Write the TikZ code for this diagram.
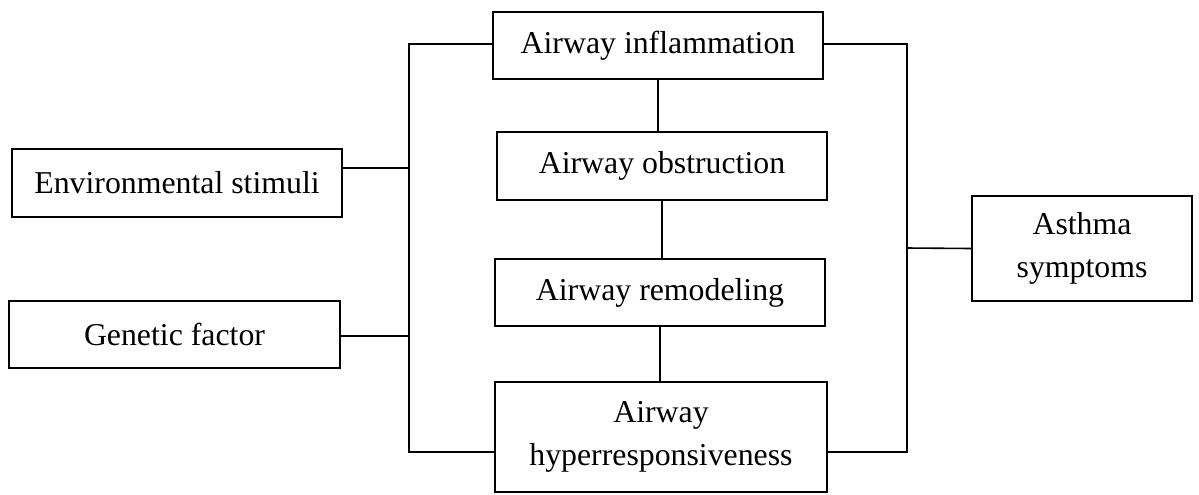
\documentclass[tikz,border=0pt]{standalone}
\usepackage{fontspec}
\setmainfont{Liberation Serif}
\usetikzlibrary{shapes}
\tikzstyle{cause} = [rectangle, draw=black, line width=1pt, minimum width=165pt, minimum height=33.5pt, inner sep=0pt, align=center, font=\fontsize{15.9}{21.5}\selectfont]
\tikzstyle{link} = [line width=0.8pt]

\begin{document}
\begin{tikzpicture}[x=0.5pt, y=-0.5pt]

\useasboundingbox (0,0) rectangle (1199,494);

\node (inflam) [cause] at (658,45.5) {Airway inflammation};
\node (obstruct) [cause, minimum height=34pt] at (662,166) {Airway obstruction};
\node (remodel) [cause] at (660,292.5) {Airway remodeling};
\node (hyper) [cause, minimum width=166pt, minimum height=55pt] at (661,437) {Airway\\hyperresponsiveness};
\node (environ) [cause, minimum height=34pt] at (177,183) {Environmental stimuli};
\node (genetic) [cause, minimum width=165.5pt] at (174.5,334.5) {Genetic factor};
\node (asthma) [cause, minimum width=110pt, minimum height=52.5pt] at (1082,248.5) {Asthma\\symptoms};

\coordinate (ltop) at (409,44);
\coordinate (lbot) at (409,452);
\coordinate (lenv) at (409,168);
\coordinate (lgen) at (409,336);
\coordinate (rtop) at (907,44);
\coordinate (rbot) at (907,452);
\coordinate (rasth) at (907,248);

\draw [link] (inflam.west |- ltop) -- (ltop) -- (lbot) -- (hyper.west |- lbot);
\draw [link] (environ.east |- lenv) -- (lenv);
\draw [link] (genetic.east |- lgen) -- (lgen);
\draw [link] (inflam.east |- rtop) -- (rtop) -- (rbot) -- (hyper.east |- rbot);
\draw [link] (rasth) -- (asthma.west);
\draw [link] (inflam.south) -- (inflam.south |- obstruct.north);
\draw [link] (obstruct.south) -- (obstruct.south |- remodel.north);
\draw [link] (remodel.south) -- (remodel.south |- hyper.north);

\end{tikzpicture}
\end{document}
